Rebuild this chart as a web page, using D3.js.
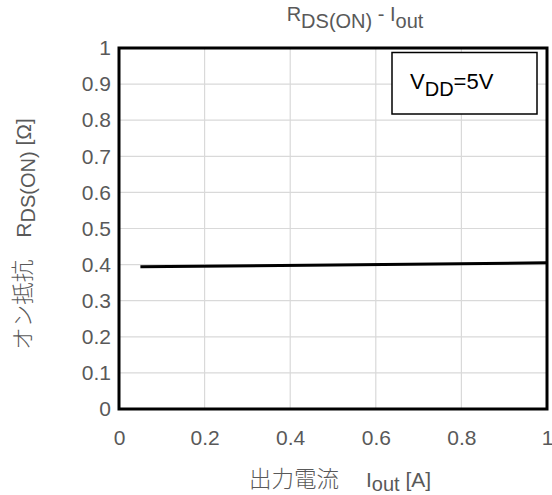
<!DOCTYPE html>
<html><head><meta charset="utf-8">
<script src="https://cdn.jsdelivr.net/npm/d3@7"></script>
<style>
html,body{margin:0;padding:0;background:#fff;}
svg text{font-family:"Liberation Sans",Arial,"Noto Sans CJK JP",sans-serif;}
.cjk{font-family:"Noto Sans CJK JP",sans-serif;font-weight:300;}
</style></head>
<body><svg id="c" width="552" height="495"></svg>
<script>
const xTicks = [0, 0.2, 0.4, 0.6, 0.8, 1];
const yTicks = [0, 0.1, 0.2, 0.3, 0.4, 0.5, 0.6, 0.7, 0.8, 0.9, 1];
const xTickLabels = ["0", "0.2", "0.4", "0.6", "0.8", "1"];
const yTickLabels = ["0", "0.1", "0.2", "0.3", "0.4", "0.5", "0.6", "0.7", "0.8", "0.9", "1"];
const iout = [0.05, 0.5, 1.0];
const rdson = [0.394, 0.399, 0.405];

const svg = d3.select("#c");
const L = 119, R = 547, T = 48, B = 409;
const x = d3.scaleLinear().domain([0, 1]).range([L, R]);
const y = d3.scaleLinear().domain([0, 1]).range([B, T]);
const textCol = "#595959";

// gridlines
svg.append("g").selectAll("line").data(yTicks.slice(1, -1)).join("line")
  .attr("x1", L).attr("x2", R).attr("y1", d => y(d)).attr("y2", d => y(d))
  .attr("stroke", "#d9d9d9").attr("stroke-width", 1.2);
svg.append("g").selectAll("line").data(xTicks.slice(1, -1)).join("line")
  .attr("y1", T).attr("y2", B).attr("x1", d => x(d)).attr("x2", d => x(d))
  .attr("stroke", "#d9d9d9").attr("stroke-width", 1.2);

// axes (labels only)
const xAxis = d3.axisBottom(x).tickValues(xTicks).tickFormat((d, i) => xTickLabels[i]).tickSize(0).tickPadding(0);
const gx = svg.append("g").attr("transform", `translate(0,${B})`).call(xAxis);
gx.select(".domain").remove();
gx.selectAll("text").attr("fill", textCol).attr("font-size", 21).attr("dy", null).attr("y", 36);

const yAxis = d3.axisLeft(y).tickValues(yTicks).tickFormat((d, i) => yTickLabels[i]).tickSize(0).tickPadding(0);
const gy = svg.append("g").attr("transform", `translate(${L - 8},0)`).call(yAxis);
gy.select(".domain").remove();
gy.selectAll("text").attr("fill", textCol).attr("font-size", 21);

// data line
const line = d3.line().x((d, i) => x(iout[i])).y(d => y(d));
svg.append("path").datum(rdson).attr("d", line)
  .attr("fill", "none").attr("stroke", "#000").attr("stroke-width", 3);

// frame
svg.append("rect").attr("x", L).attr("y", T).attr("width", R - L).attr("height", B - T)
  .attr("fill", "none").attr("stroke", "#000").attr("stroke-width", 3);

// legend box
svg.append("rect").attr("x", 392).attr("y", 52.5).attr("width", 145).attr("height", 61.5)
  .attr("fill", "#fff").attr("stroke", "#000").attr("stroke-width", 1.5);
const lt = svg.append("text").attr("x", 410).attr("y", 89).attr("font-size", 22).attr("fill", "#000");
lt.append("tspan").text("V");
lt.append("tspan").attr("dy", 7).attr("font-size", 20).text("DD");
lt.append("tspan").attr("dy", -7).text("=5V");

// title
const tt = svg.append("text").attr("x", 355).attr("y", 21).attr("text-anchor", "middle").attr("font-size", 20).attr("fill", textCol);
tt.append("tspan").text("R");
tt.append("tspan").attr("dy", 7).attr("font-size", 20).text("DS(ON)");
tt.append("tspan").attr("dy", -7).text(" - I");
tt.append("tspan").attr("dy", 7).attr("font-size", 20).text("out");

// x label
const xl = svg.append("text").attr("x", 340).attr("y", 487).attr("text-anchor", "middle").attr("font-size", 21).attr("fill", textCol);
xl.append("tspan").attr("class", "cjk").attr("font-size", 22.5).text("出力電流");
xl.append("tspan").attr("dx", 27).text("I");
xl.append("tspan").attr("dy", 4).attr("font-size", 20).text("out");
xl.append("tspan").attr("dy", -4).text(" [A]");

// y label
const yl = svg.append("text").attr("transform", `translate(31,${234}) rotate(-90)`).attr("text-anchor", "middle").attr("font-size", 21).attr("fill", textCol);
yl.append("tspan").attr("class", "cjk").attr("font-size", 22.5).text("オン抵抗");
yl.append("tspan").attr("dx", 22).text("R");
yl.append("tspan").attr("dy", 4).attr("font-size", 20).text("DS(ON)");
yl.append("tspan").attr("dy", -4).text(" [Ω]");
</script></body></html>
